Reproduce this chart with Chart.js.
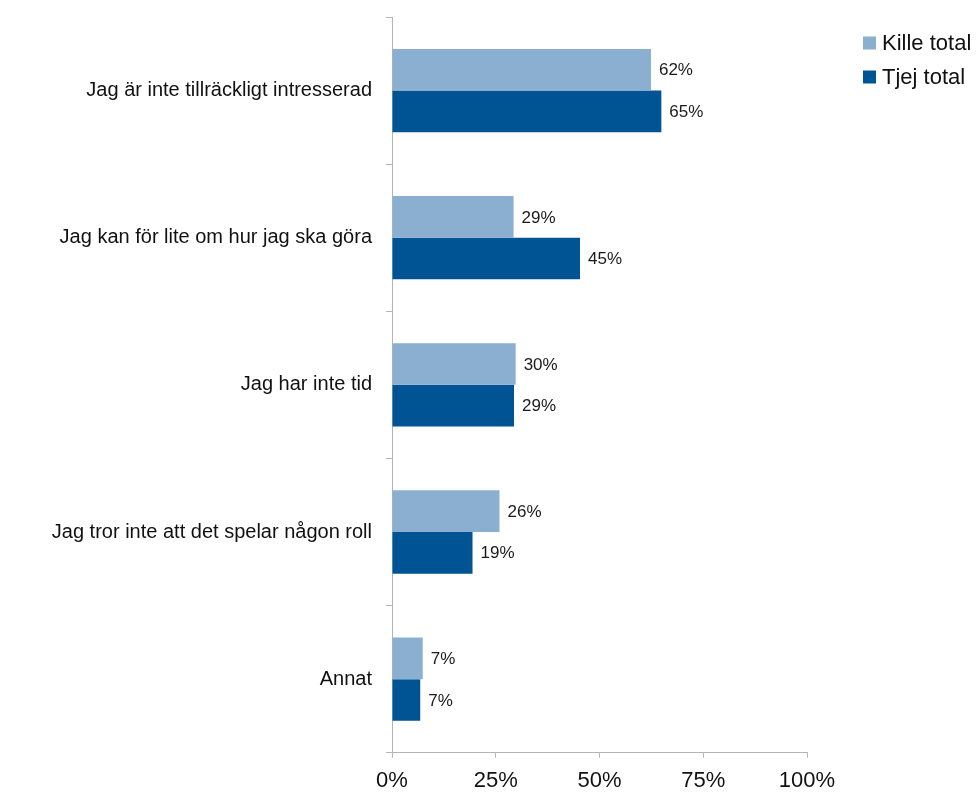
<!DOCTYPE html>
<html>
<head>
<meta charset="utf-8">
<script src="https://cdn.jsdelivr.net/npm/chart.js@4"></script>
<style>
  html, body { margin: 0; padding: 0; background: #fff; }
  #wrap { width: 979px; height: 792px; }
</style>
</head>
<body>
<div id="wrap"><canvas id="chart" width="979" height="792"></canvas></div>
<script>
const categories = [
  'Jag är inte tillräckligt intresserad',
  'Jag kan för lite om hur jag ska göra',
  'Jag har inte tid',
  'Jag tror inte att det spelar någon roll',
  'Annat'
];
const killeTotal = [62.4, 29.3, 29.8, 25.9, 7.4];
const tjejTotal = [64.9, 45.3, 29.4, 19.4, 6.8];
const xTicks = [0, 25, 50, 75, 100];

const FONT = "'Liberation Sans', Arial, sans-serif";
const AXIS_GRAY = '#b4b4b4';

// value labels at the end of each bar
const valueLabels = {
  id: 'valueLabels',
  afterDatasetsDraw(chart) {
    const ctx = chart.ctx;
    ctx.save();
    ctx.font = '17px ' + FONT;
    ctx.fillStyle = '#1a1a1a';
    ctx.textAlign = 'left';
    ctx.textBaseline = 'middle';
    chart.data.datasets.forEach((ds, i) => {
      chart.getDatasetMeta(i).data.forEach((bar, j) => {
        ctx.fillText(Math.round(ds.data[j]) + '%', bar.x + 8, bar.y + 1);
      });
    });
    ctx.restore();
  }
};

// legend top right, squares + labels
const sideLegend = {
  id: 'sideLegend',
  afterDraw(chart) {
    const ctx = chart.ctx;
    ctx.save();
    ctx.font = '22px ' + FONT;
    ctx.textAlign = 'left';
    ctx.textBaseline = 'middle';
    chart.data.datasets.forEach((ds, i) => {
      const y = 43 + i * 34;
      ctx.fillStyle = ds.backgroundColor;
      ctx.fillRect(863, y - 6.5, 13, 13);
      ctx.fillStyle = '#111';
      ctx.fillText(ds.label, 882, y + 1);
    });
    ctx.restore();
  }
};

new Chart(document.getElementById('chart'), {
  type: 'bar',
  data: {
    labels: categories,
    datasets: [
      { label: 'Kille total', data: killeTotal, backgroundColor: 'rgb(139,175,208)' },
      { label: 'Tjej total', data: tjejTotal, backgroundColor: 'rgb(0,84,147)' }
    ]
  },
  options: {
    indexAxis: 'y',
    responsive: false,
    animation: false,
    datasets: {
      bar: { categoryPercentage: 0.566, barPercentage: 1, borderWidth: 0 }
    },
    layout: { padding: { top: 17, right: 172, bottom: 0, left: 0 } },
    scales: {
      x: {
        min: 0,
        max: 100,
        afterBuildTicks: (s) => { s.ticks = xTicks.map(v => ({ value: v })); },
        afterFit: (s) => { s.height = 39.3; s.paddingLeft = 0; s.paddingRight = 0; },
        grid: { drawOnChartArea: false, tickLength: 5, color: AXIS_GRAY },
        border: { color: AXIS_GRAY },
        ticks: {
          callback: (v) => v + '%',
          font: { family: FONT, size: 22 },
          color: '#111',
          padding: 10,
          maxRotation: 0
        }
      },
      y: {
        afterFit: (s) => { s.width = 392; s.paddingTop = 0; s.paddingBottom = 0; },
        grid: { drawOnChartArea: false, offset: true, tickLength: 6, color: AXIS_GRAY },
        border: { color: AXIS_GRAY },
        ticks: {
          font: { family: FONT, size: 20 },
          color: '#111',
          padding: 14
        }
      }
    },
    plugins: {
      legend: { display: false },
      tooltip: { enabled: false }
    }
  },
  plugins: [valueLabels, sideLegend]
});
</script>
</body>
</html>
